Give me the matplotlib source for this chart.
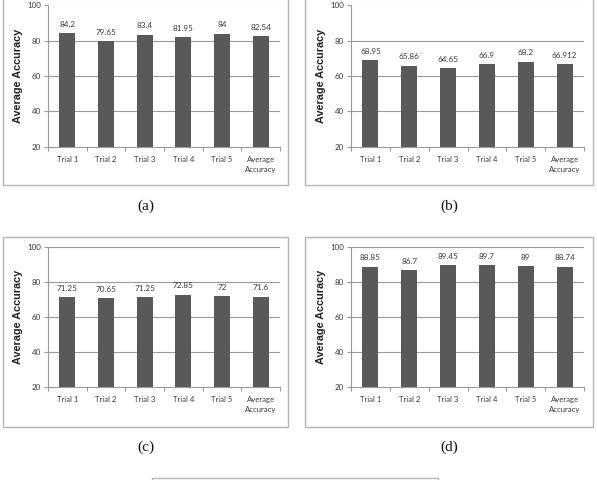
import matplotlib
matplotlib.use("Agg")
import matplotlib.pyplot as plt
from matplotlib.patches import Rectangle

categories = ["Trial 1", "Trial 2", "Trial 3", "Trial 4", "Trial 5", "Average\nAccuracy"]
values_a = [84.2, 79.65, 83.4, 81.95, 84, 82.54]
values_b = [68.95, 65.86, 64.65, 66.9, 68.2, 66.912]
values_c = [71.25, 70.65, 71.25, 72.85, 72, 71.6]
values_d = [88.85, 86.7, 89.45, 89.7, 89, 88.74]
panel_labels = ["(a)", "(b)", "(c)", "(d)"]
yticks = [20, 40, 60, 80, 100]
ylabel = "Average Accuracy"

W, H = 597, 480
fig = plt.figure(figsize=(W / 100, H / 100), dpi=100)

BAR = "#595959"
GRID = "#9a9a9a"
BOX = "#b4b4b4"
TXT = "#3a3a3a"


def frac(x0, y0, x1, y1):
    return [x0 / W, 1 - y1 / H, (x1 - x0) / W, (y1 - y0) / H]


def draw_panel(values, box, axrect, label, label_xy):
    bx0, by0, bx1, by1 = box
    fig.add_artist(Rectangle((bx0 / W, 1 - by1 / H), (bx1 - bx0) / W, (by1 - by0) / H,
                             transform=fig.transFigure, fill=False, ec=BOX, lw=1.0))
    ax = fig.add_axes(frac(*axrect))
    ax.set_facecolor("none")
    x = list(range(len(categories)))
    ax.bar(x, values, width=0.41, color=BAR, zorder=3)
    ax.set_xlim(-0.5, len(categories) - 0.5)
    ax.set_ylim(20, 100)
    ax.set_yticks(yticks)
    ax.set_yticklabels([str(t) for t in yticks], fontsize=5.8, color=TXT, family="Lato")
    ax.set_xticks(x)
    ax.set_xticklabels(categories, fontsize=5.6, color=TXT, family="Lato", linespacing=1.5)
    ax.set_xticks([i - 0.5 for i in range(len(categories) + 1)], minor=True)
    ax.tick_params(axis="x", which="major", length=0, pad=6.5)
    ax.tick_params(axis="x", which="minor", length=3, color=GRID, width=0.8, direction="out")
    ax.tick_params(axis="y", length=3, color=GRID, width=0.8, pad=2, direction="out")
    for yv in yticks[1:]:
        ax.axhline(yv, color=GRID, lw=0.8, zorder=1)
    for s in ["top", "right"]:
        ax.spines[s].set_visible(False)
    ax.spines["left"].set_color(GRID)
    ax.spines["bottom"].set_color(GRID)
    ax.spines["left"].set_linewidth(0.8)
    ax.spines["bottom"].set_linewidth(0.8)
    for xi, v in zip(x, values):
        ax.annotate(f"{v:g}", (xi, v), xytext=(0, 3.8), textcoords="offset points",
                    ha="center", va="bottom", fontsize=5.9, color=TXT, family="Lato")
    ax.set_ylabel(ylabel, fontsize=7.8, fontweight="bold", family="Liberation Sans", color="#222222")
    ax.yaxis.set_label_coords(-25 / (axrect[2] - axrect[0]), 0.5)
    fig.text(label_xy[0] / W, 1 - label_xy[1] / H, label, ha="center", va="center",
             fontsize=11, family="Liberation Serif", color="#111111")


draw_panel(values_a, (3, -10, 288, 185), (48, 5.5, 280, 146.5), panel_labels[0], (146, 206))
draw_panel(values_b, (305, -10, 593, 185), (351, 5.5, 584, 146.5), panel_labels[1], (449, 206))
draw_panel(values_c, (3, 237, 288, 427), (48, 247, 280, 387), panel_labels[2], (146, 447))
draw_panel(values_d, (305, 237, 593, 427), (351, 247, 584, 387), panel_labels[3], (449, 447))

# bottom (cut-off) panel frame
fig.add_artist(Rectangle((152 / W, 1 - 500 / H), (438 - 152) / W, (500 - 478) / H,
                         transform=fig.transFigure, fill=False, ec=BOX, lw=1.0))

fig.savefig("out.png", dpi=100, facecolor="white")
